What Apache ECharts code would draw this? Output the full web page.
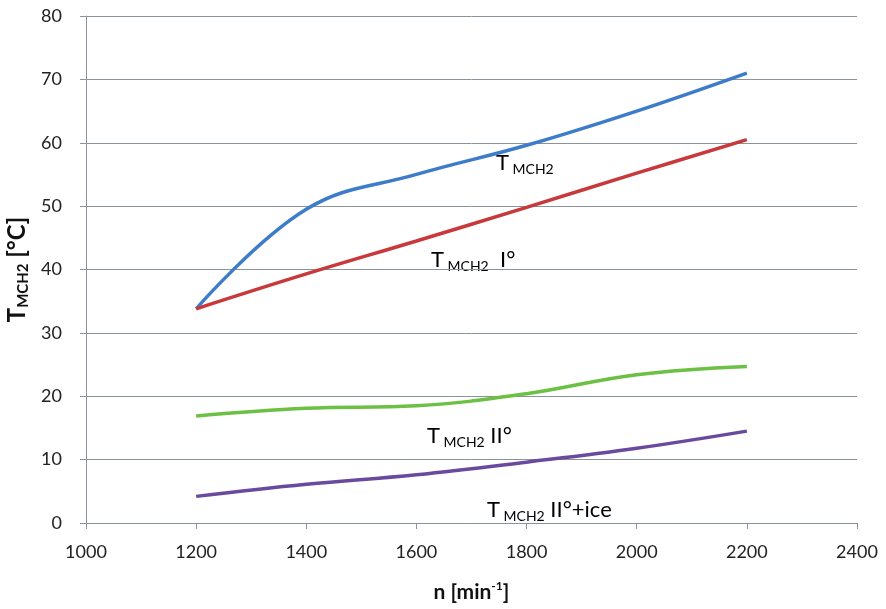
<!DOCTYPE html>
<html><head><meta charset="utf-8">
<script src="https://cdn.jsdelivr.net/npm/echarts@6/dist/echarts.min.js"></script>
<style>html,body{margin:0;padding:0;background:#fff}#c{width:886px;height:609px}</style>
</head><body><div id="c"></div>
<script>
const rpm = [1200, 1400, 1600, 1800, 2000, 2200];
const tMch2 = [33.8, 49.5, 55.0, 59.6, 65.0, 71.0];
const tMch2I = [33.8, 39.3, 44.5, 49.8, 55.2, 60.5];
const tMch2II = [16.9, 18.1, 18.5, 20.4, 23.4, 24.7];
const tMch2IIice = [4.2, 6.1, 7.6, 9.6, 11.8, 14.5];
const xTicks = [1000, 1200, 1400, 1600, 1800, 2000, 2200, 2400];
const yTicks = [0, 10, 20, 30, 40, 50, 60, 70, 80];

const FONT = 'Lato, "Open Sans", sans-serif';
const NARROW = '"Liberation Sans Narrow", Lato, sans-serif';
const chart = echarts.init(document.getElementById('c'), null, {renderer: 'canvas'});
const pair = (xs, ys) => xs.map((x, i) => [x, ys[i]]);
const mk = (name, ys, color) => ({
  name, type: 'line', data: pair(rpm, ys), smooth: 0.4, symbol: 'none',
  lineStyle: {color, width: 3.5}, itemStyle: {color}
});
const rich = {
  t: {fontFamily: FONT, fontSize: 22, color: '#222'},
  s: {fontFamily: FONT, fontSize: 14, color: '#222', padding: [12, 0, 0, 0]}
};
const label = (x, y, str) => ({
  type: 'text', left: x, top: y,
  style: {text: str, rich, fontFamily: FONT}
});
chart.setOption({
  animation: false,
  grid: {left: 86, right: 29, top: 16, bottom: 86, containLabel: false, outerBoundsMode: 'none'},
  xAxis: {
    type: 'value', min: xTicks[0], max: xTicks[xTicks.length - 1], interval: 200,
    axisLine: {lineStyle: {color: '#8a929a', width: 1}},
    axisTick: {show: true, length: 6, lineStyle: {color: '#8a929a'}},
    splitLine: {show: false},
    axisLabel: {fontFamily: NARROW, fontSize: 18, color: '#222', margin: 20, formatter: v => String(v)},
    name: '{a|n [min}{b|-1}{a|]}', nameLocation: 'middle', nameGap: 57,
    nameTextStyle: {rich: {
      a: {fontFamily: FONT, fontSize: 21, fontWeight: 'bold', color: '#111'},
      b: {fontFamily: FONT, fontSize: 12, fontWeight: 'bold', color: '#111', padding: [0, 0, 12, 0]}
    }}
  },
  yAxis: {
    type: 'value', min: yTicks[0], max: yTicks[yTicks.length - 1], interval: 10,
    axisLine: {show: true, lineStyle: {color: '#8a929a', width: 1}},
    axisTick: {show: true, length: 6, lineStyle: {color: '#8a929a'}},
    splitLine: {lineStyle: {color: '#8a929a', width: 1}},
    axisLabel: {fontFamily: NARROW, fontSize: 18, color: '#222', margin: 24},
    name: '{a|T}{b|MCH2}{a| [°C]}', nameLocation: 'middle', nameGap: 53, nameRotate: 90,
    nameTextStyle: {rich: {
      a: {fontFamily: FONT, fontSize: 24, fontWeight: 'bold', color: '#111'},
      b: {fontFamily: FONT, fontSize: 15, fontWeight: 'bold', color: '#111', padding: [10, 0, 0, 0]}
    }}
  },
  series: [
    mk('T MCH2', tMch2, '#3d7cc9'),
    mk('T MCH2 I°', tMch2I, '#c8393c'),
    mk('T MCH2 II°', tMch2II, '#6cc043'),
    mk('T MCH2 II°+ice', tMch2IIice, '#6a4a9e')
  ],
  graphic: [
    label(496, 152, '{t|T}{s| MCH2}'),
    label(431, 249, '{t|T}{s| MCH2}{t|  I°}'),
    label(427, 425, '{t|T}{s| MCH2}{t| II°}'),
    label(487, 499, '{t|T}{s| MCH2}{t| II°+ice}')
  ]
});
</script></body></html>
